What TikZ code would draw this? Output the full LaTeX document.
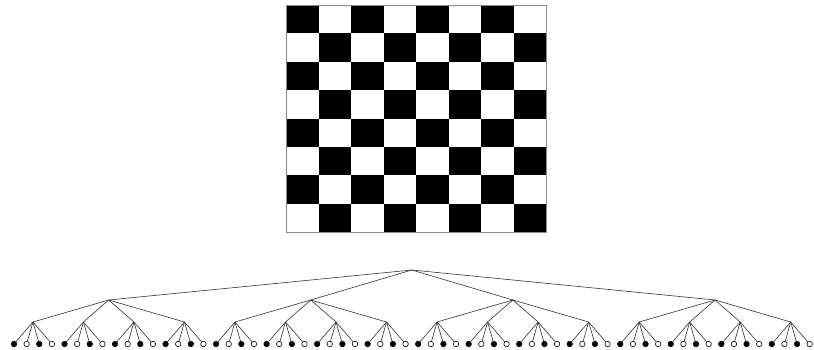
\documentclass[tikz,border=0pt]{standalone}
\begin{document}
\begin{tikzpicture}[x=1pt, y=-1pt,
	edge/.style={draw=black!80, line width=0.6pt},
	blackleaf/.style={circle, draw=black, fill=black, line width=0.6pt, inner sep=0pt, minimum size=5.5pt},
	whiteleaf/.style={circle, draw=black, fill=white, line width=0.6pt, inner sep=0pt, minimum size=5.5pt}]
\useasboundingbox (0,0) rectangle (814,349);
\fill[white] (0,0) rectangle (814,349);
\foreach \i in {0,...,7}
{
	\foreach \j in {0,...,7} {
		\pgfmathtruncatemacro\c{mod(\i+\j,2)}
		\ifnum\c=0
			\fill[black] (286+32.5*\j,5+28.375*\i) rectangle ++(32.5,28.375);
		\fi
	}
}
\draw[black!45, line width=0.7pt] (286,5) rectangle (546,232);
\coordinate (root) at (411.8,270);
\foreach \k in {0,...,3}
	\coordinate (a\k) at (108.7+202.1*\k,300);
\foreach \k in {0,...,15}
	\coordinate (b\k) at (32.9+50.52*\k,322);
\foreach \k in {0,...,63} {
	\ifodd\k
		\node[whiteleaf] (c\k) at (14+12.63*\k,344) {};
	\else
		\node[blackleaf] (c\k) at (14+12.63*\k,344) {};
	\fi
}
\foreach \k in {0,...,3}
	\draw[edge] (root) -- (a\k);
\foreach \k in {0,...,15} {
	\pgfmathtruncatemacro\up{floor(\k/4)}
	\draw[edge] (a\up) -- (b\k);
}
\foreach \k in {0,...,63} {
	\pgfmathtruncatemacro\up{floor(\k/4)}
	\draw[edge] (b\up) -- (c\k);
}
\end{tikzpicture}
\end{document}
